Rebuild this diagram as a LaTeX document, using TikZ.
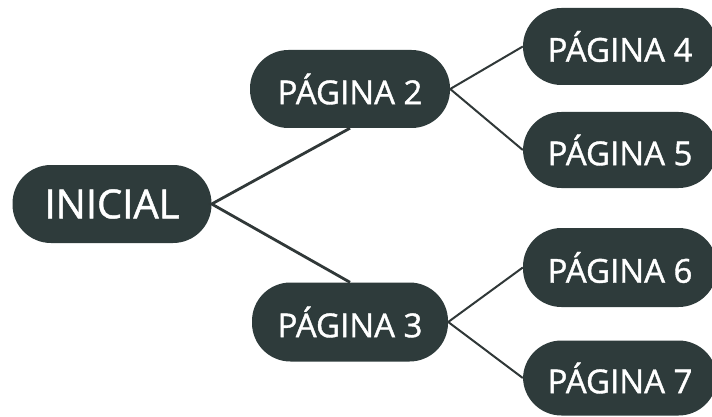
\documentclass[tikz,border=0pt]{standalone}
\usepackage{fontspec}
\setmainfont{Open Sans}
\newfontfamily\pillfont{Open Sans}[FakeBold=1.2]
\definecolor{nodefill}{HTML}{2E3B3B}
\definecolor{linecol}{HTML}{303838}
\tikzset{
  pill/.style={fill=nodefill, text=white, rounded corners=38.5pt, minimum height=77pt, inner sep=0pt, font=\pillfont\fontsize{33}{33}\selectfont},
  mainlink/.style={draw=linecol, line width=2.8pt},
  sublink/.style={draw=linecol, line width=2pt},
}
\begin{document}
\begin{tikzpicture}[x=1pt,y=-1pt]
\useasboundingbox (0,0) rectangle (712,417);
\clip (0,0) rectangle (712,417);
\fill[white] (0,0) rectangle (712,417);
\node[pill, minimum width=199pt, minimum height=78pt, font=\pillfont\fontsize{40}{40}\selectfont] (ini) at (112,204) {INICIAL};
\node[pill, minimum width=200pt, minimum height=78pt] (p2) at (350,89) {PÁGINA 2};
\node[pill, minimum width=196pt, minimum height=79pt] (p3) at (350,322) {PÁGINA 3};
\node[pill, minimum width=194pt] (p4) at (620,46.5) {PÁGINA 4};
\node[pill, minimum width=194pt, minimum height=76pt] (p5) at (620,150) {PÁGINA 5};
\node[pill, minimum width=194pt, minimum height=79pt] (p6) at (620,267.5) {PÁGINA 6};
\node[pill, minimum width=194pt, minimum height=75pt] (p7) at (620,378) {PÁGINA 7};
\draw[mainlink] (p2.south) -- (ini.east) -- (p3.north);
\draw[sublink] (p2.east) -- (p4.west);
\draw[sublink] (p2.east) -- (p5.west);
\draw[sublink] (p3.east) -- (p6.west);
\draw[sublink] (p3.east) -- (p7.west);
\end{tikzpicture}
\end{document}
